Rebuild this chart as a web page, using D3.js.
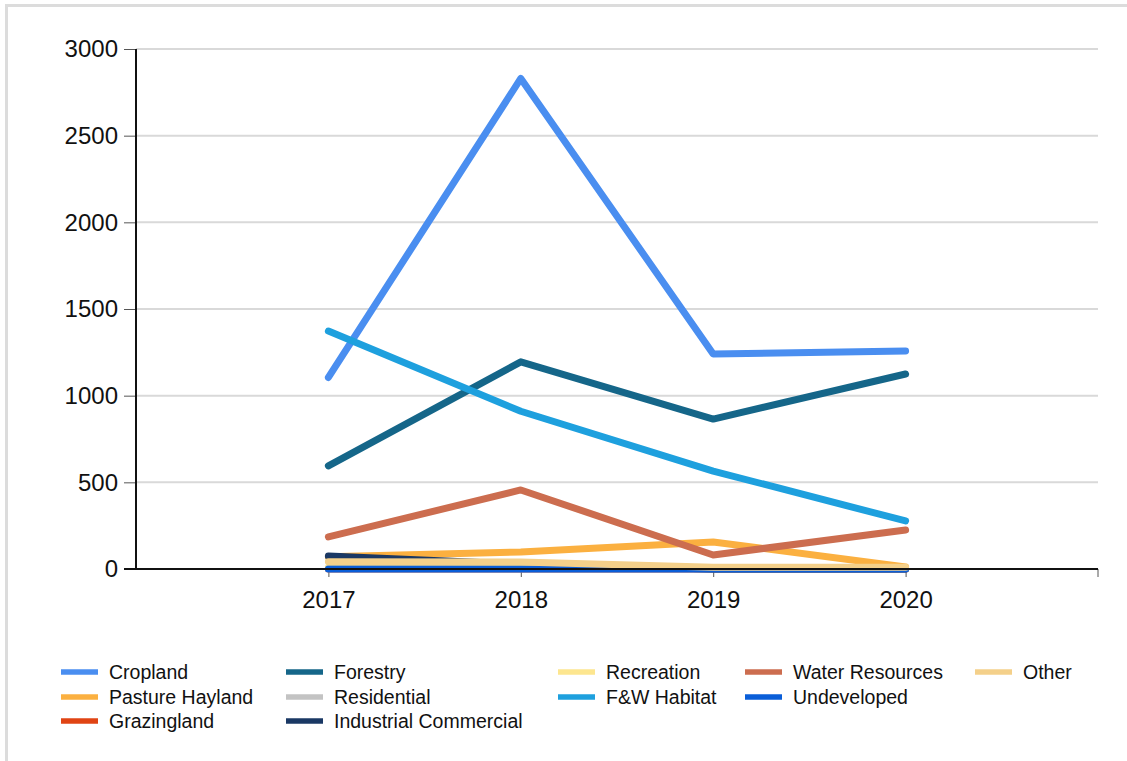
<!DOCTYPE html>
<html>
<head>
<meta charset="utf-8">
<script src="https://cdn.jsdelivr.net/npm/d3@7"></script>
<style>
  html, body { margin: 0; padding: 0; background: #fff; }
  svg { display: block; font-family: "Liberation Sans", Arial, sans-serif; }
</style>
</head>
<body>
<svg id="chart" width="1127" height="761"></svg>
<script>
// Years on the x axis
const years = [2017, 2018, 2019, 2020];

// Land use categories (series order) and their colours
const categories = [
  "Cropland", "Pasture Hayland", "Grazingland",
  "Forestry", "Residential", "Industrial Commercial",
  "Recreation", "F&W Habitat",
  "Water Resources", "Undeveloped",
  "Other"
];
const colors = [
  "#4a8ef0", "#fbb040", "#e04414",
  "#156689", "#c3c3c3", "#1a3864",
  "#fde68f", "#1ea0de",
  "#cc6d4f", "#0a5ed8",
  "#f4d08a"
];

// Values per category, one per year
const cropland    = [1105, 2830, 1240, 1258];
const pasture     = [70, 98, 156, 12];
const grazingland = [0, 0, 0, 0];
const forestry    = [595, 1195, 865, 1125];
const residential = [2, 2, 1, 1];
const industrial  = [75, 28, 0, 0];
const recreation  = [8, 6, 3, 3];
const fwHabitat   = [1373, 910, 565, 277];
const waterRes    = [185, 456, 81, 225];
const undeveloped = [0, 0, 0, 0];
const other       = [42, 40, 10, 10];

const seriesValues = [
  cropland, pasture, grazingland,
  forestry, residential, industrial,
  recreation, fwHabitat,
  waterRes, undeveloped,
  other
];

// How many legend entries go in each legend column (filled top to bottom)
const legendColumnSizes = [3, 3, 2, 2, 1];

// Y axis ticks
const yTicks = [0, 500, 1000, 1500, 2000, 2500, 3000];

const svg = d3.select("#chart");

// Light frame along the top and left edges
svg.append("line").attr("x1", 5).attr("x2", 1127).attr("y1", 5.5).attr("y2", 5.5)
  .attr("stroke", "#dcdcdc").attr("stroke-width", 3);
svg.append("line").attr("x1", 6.5).attr("x2", 6.5).attr("y1", 5).attr("y2", 761)
  .attr("stroke", "#dcdcdc").attr("stroke-width", 3);

const plotLeft = 136, plotRight = 1098, plotTop = 49, plotBottom = 569;

const x = d3.scaleLinear().domain([2016, 2021]).range([plotLeft, plotRight]);
const y = d3.scaleLinear().domain([0, 3000]).range([plotBottom, plotTop]);

// Gridlines
svg.append("g")
  .selectAll("line")
  .data(yTicks.filter(d => d > 0))
  .join("line")
  .attr("x1", plotLeft).attr("x2", plotRight)
  .attr("y1", d => y(d)).attr("y2", d => y(d))
  .attr("stroke", "#d9d9d9").attr("stroke-width", 2);

// Y axis ticks and labels
const yAxis = svg.append("g")
  .attr("transform", `translate(${plotLeft},0)`)
  .call(d3.axisLeft(y).tickValues(yTicks).tickSize(12).tickPadding(6).tickFormat(d3.format("d")));
yAxis.select(".domain").remove();
yAxis.selectAll(".tick line").attr("stroke", "#555");
yAxis.selectAll(".tick text").attr("font-size", 24).attr("fill", "#111")
  .attr("font-family", "Liberation Sans, Arial, sans-serif");

// X axis ticks and labels
const xAxis = svg.append("g")
  .attr("transform", `translate(0,${plotBottom})`)
  .call(d3.axisBottom(x).tickValues(years).tickSize(8).tickPadding(14).tickFormat(d3.format("d")));
xAxis.select(".domain").remove();
xAxis.selectAll(".tick line").attr("stroke", "#555");
xAxis.selectAll(".tick text").attr("font-size", 24).attr("fill", "#111")
  .attr("font-family", "Liberation Sans, Arial, sans-serif");
svg.append("line").attr("x1", plotRight).attr("x2", plotRight).attr("y1", plotBottom).attr("y2", plotBottom + 8)
  .attr("stroke", "#555").attr("stroke-width", 1);

// Series lines
const line = d3.line().x((d, i) => x(years[i])).y(d => y(d));
svg.append("g")
  .selectAll("path")
  .data(seriesValues)
  .join("path")
  .attr("d", d => line(d))
  .attr("fill", "none")
  .attr("stroke", (d, i) => colors[i])
  .attr("stroke-width", 7)
  .attr("stroke-linecap", "round")
  .attr("stroke-linejoin", "round");

// Axis lines on top of the series
svg.append("line").attr("x1", plotLeft).attr("x2", plotLeft).attr("y1", plotTop).attr("y2", plotBottom + 1)
  .attr("stroke", "#111").attr("stroke-width", 2);
svg.append("line").attr("x1", plotLeft - 12).attr("x2", plotRight).attr("y1", plotBottom).attr("y2", plotBottom)
  .attr("stroke", "#111").attr("stroke-width", 2);

// Legend: entries flow down each column
const colX = [61, 286, 558, 745, 975];
const rowY = [672, 697, 721];
const slots = [];
legendColumnSizes.forEach((n, c) => { for (let r = 0; r < n; r++) slots.push([colX[c], rowY[r]]); });

const legend = svg.append("g")
  .selectAll("g")
  .data(categories)
  .join("g")
  .attr("transform", (d, i) => `translate(${slots[i][0]},${slots[i][1]})`);
legend.append("line")
  .attr("x1", 0).attr("x2", 37).attr("y1", 0).attr("y2", 0)
  .attr("stroke", (d, i) => colors[i]).attr("stroke-width", 5.5);
legend.append("text")
  .attr("x", 48).attr("y", 0).attr("dy", "0.35em")
  .attr("font-size", 19.5).attr("fill", "#111")
  .text(d => d);
</script>
</body>
</html>
